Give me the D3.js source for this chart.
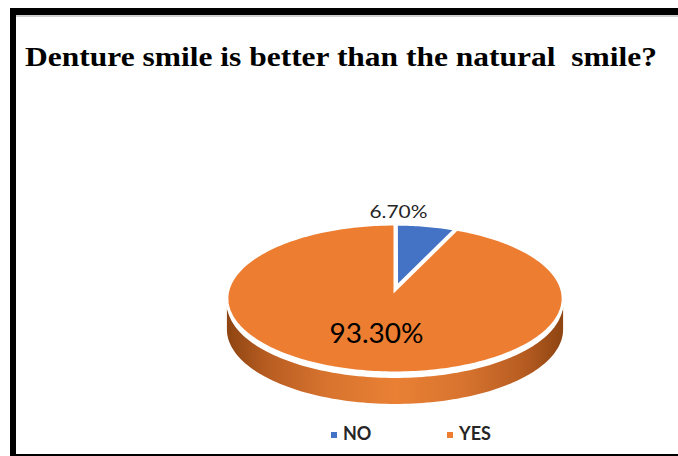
<!DOCTYPE html>
<html><head><meta charset="utf-8">
<script src="https://cdn.jsdelivr.net/npm/d3@7"></script>
<style>html,body{margin:0;padding:0;background:#fff;overflow:hidden}</style>
</head><body>
<svg id="chart" width="678" height="456"></svg>
<script>
const title = "Denture smile is better than the natural  smile?";
const categories = ["NO", "YES"];
const values = [6.7, 93.3];
const labels = ["6.70%", "93.30%"];
const colors = ["#4472C4", "#ED7D31"];

const svg = d3.select("#chart");
const W = 678, H = 456;

// frame
svg.append("rect").attr("x", 10).attr("y", 8).attr("width", W - 10).attr("height", 7).attr("fill", "#000");
svg.append("rect").attr("x", 16).attr("y", 15).attr("width", W - 16).attr("height", 2).attr("fill", "#d0d0d0");
svg.append("rect").attr("x", 10).attr("y", 8).attr("width", 6).attr("height", H - 8).attr("fill", "#000");
svg.append("rect").attr("x", 10).attr("y", 454).attr("width", W - 10).attr("height", 2).attr("fill", "#000");

// title
svg.append("text").attr("x", 25).attr("y", 66)
  .attr("xml:space", "preserve").style("white-space", "pre")
  .attr("font-family", "'Liberation Serif', 'Times New Roman', serif")
  .attr("font-weight", "bold").attr("font-size", 28)
  .attr("textLength", 632).attr("lengthAdjust", "spacingAndGlyphs")
  .attr("fill", "#000").text(title);

// perspective projection of a tilted disc
const cx = 395, cy = 290, B = 167, A = 73.5, b = 0.114, T = 31;
function projOff(r, a, ox, oz) {
  const X = r * Math.sin(a) + ox, Z = r * Math.cos(a) + oz;
  const den = 1 + b * Z;
  return [cx + B * X / den, cy - A * Z / den];
}
const proj = (r, a) => projOff(r, a, 0, 0);

const pie = d3.pie().sort(null).value(d => d)(values);
const line = d3.line();

function slicePath(d, rScale, off) {
  const pts = [];
  const mid = (d.startAngle + d.endAngle) / 2;
  const ox = off * Math.sin(mid), oz = off * Math.cos(mid);
  pts.push(projOff(0, 0, ox, oz));
  const n = Math.max(4, Math.ceil((d.endAngle - d.startAngle) / 0.02));
  for (let i = 0; i <= n; i++) {
    const a = d.startAngle + (d.endAngle - d.startAngle) * i / n;
    pts.push(projOff(rScale, a, ox, oz));
  }
  return line(pts) + "Z";
}

// side gradient
const defs = svg.append("defs");
const grad = defs.append("linearGradient").attr("id", "side")
  .attr("gradientUnits", "userSpaceOnUse")
  .attr("x1", cx - B).attr("x2", cx + B).attr("y1", 0).attr("y2", 0);
[[0, "#8f4512"], [0.12, "#b85d22"], [0.3, "#d8742f"], [0.5, "#e98034"], [0.7, "#d8742f"], [0.88, "#b85d22"], [1, "#8f4512"]]
  .forEach(s => grad.append("stop").attr("offset", s[0]).attr("stop-color", s[1]));

// side of the YES slice (front half of the disc)
const aR = Math.acos(-b), aL = 2 * Math.PI - Math.acos(-b);
const sidePts = [];
const N = 120;
for (let i = 0; i <= N; i++) { const p = proj(1, aR + (aL - aR) * i / N); sidePts.push([p[0], p[1] + 5]); }
for (let i = N; i >= 0; i--) { const p = proj(1, aR + (aL - aR) * i / N); sidePts.push([p[0], p[1] + T]); }
svg.append("path").attr("d", line(sidePts) + "Z").attr("fill", "url(#side)");

// top faces
const g = svg.append("g");
g.append("path").attr("d", slicePath(pie[1], 1, 0))
  .attr("fill", colors[1]).attr("stroke", "#fff").attr("stroke-width", 3).attr("stroke-linejoin", "miter");
g.append("path").attr("d", slicePath(pie[0], 0.93, 0.06))
  .attr("fill", colors[0]).attr("stroke", "#fff").attr("stroke-width", 2).attr("stroke-linejoin", "miter");

// data labels
const midNo = (pie[0].startAngle + pie[0].endAngle) / 2;
const pNo = proj(1.0, midNo);
svg.append("text").attr("x", pNo[0] - 28).attr("y", pNo[1] - 7)
  .attr("text-anchor", "middle").attr("font-family", "Lato, 'Open Sans', sans-serif")
  .attr("font-size", 18).attr("textLength", 58).attr("lengthAdjust", "spacingAndGlyphs")
  .attr("fill", "#262626").text(labels[0]);
const midYes = (pie[1].startAngle + pie[1].endAngle) / 2;
const pYes = proj(0.5, midYes);
svg.append("text").attr("x", pYes[0]).attr("y", pYes[1] + 15)
  .attr("text-anchor", "middle").attr("font-family", "Lato, 'Open Sans', sans-serif")
  .attr("font-size", 27).attr("textLength", 94).attr("lengthAdjust", "spacingAndGlyphs")
  .attr("fill", "#000").text(labels[1]);

// legend
const legX = [331, 447];
categories.forEach((c, i) => {
  svg.append("rect").attr("x", legX[i]).attr("y", 432).attr("width", 6).attr("height", 6).attr("fill", colors[i]);
  svg.append("text").attr("x", legX[i] + 12).attr("y", 440)
    .attr("font-family", "Lato, 'Open Sans', sans-serif").attr("font-weight", "bold")
    .attr("font-size", 18).attr("fill", "#262626").text(c);
});
</script>
</body></html>
